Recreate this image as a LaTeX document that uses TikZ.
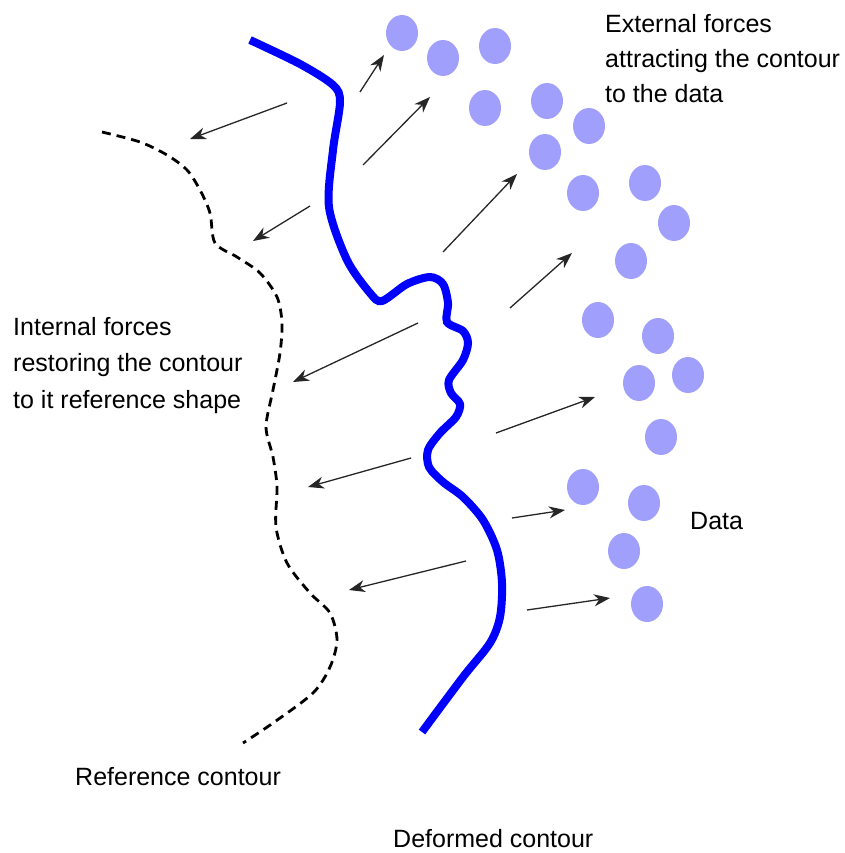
\documentclass[tikz,border=0pt]{standalone}
\usepackage{fontspec}
\setmainfont{Liberation Sans}
\usetikzlibrary{arrows.meta}
\definecolor{datablue}{RGB}{160,160,252}

\begin{document}
\begin{tikzpicture}[x=1pt, y=-1pt,
    force/.style={-{Stealth[length=16pt, width=12pt, inset=5pt]}, line width=1.3pt, black!85},
    label/.style={anchor=base west, inner sep=0pt, font=\fontsize{25}{35}\selectfont}]
    \useasboundingbox (0,0) rectangle (844,853);

    % Reference contour (dashed)
    \draw[line width=2.8pt, dash pattern=on 9pt off 6pt] plot[smooth] coordinates {
        (102,132) (140,142) (167,155) (187,170) (200,190) (210,213) (215,243)
        (237,257) (260,273) (277,297) (282,323) (280,353) (273,390) (266,427)
        (273,457) (277,487) (276,527) (287,563) (310,593) (330,613) (337,640)
        (330,667) (313,693) (273,723) (243,743)};

    % Deformed contour (blue)
    \draw[blue, line width=8pt] plot[smooth] coordinates {
        (250,40) (300,64) (333,85) (340,102) (333,150) (329,207) (347,260)
        (370,293) (382,301) (407,284) (430,277) (443,284) (448,303) (447,322)
        (463,331) (468,343) (463,360) (449,380) (451,393) (460,404) (456,417)
        (440,433) (428,450) (429,467) (443,482) (463,497) (483,520) (497,550)
        (502,583) (500,617) (490,643) (463,677) (422,732)};

    % Data
    \fill[datablue] (402,33) ellipse [x radius=16pt, y radius=18pt];
    \fill[datablue] (443,58) ellipse [x radius=16pt, y radius=18pt];
    \fill[datablue] (495,46) ellipse [x radius=16pt, y radius=18pt];
    \fill[datablue] (485,108) ellipse [x radius=16pt, y radius=18pt];
    \fill[datablue] (547,101) ellipse [x radius=16pt, y radius=18pt];
    \fill[datablue] (589,126) ellipse [x radius=16pt, y radius=18pt];
    \fill[datablue] (545,152) ellipse [x radius=16pt, y radius=18pt];
    \fill[datablue] (583,193) ellipse [x radius=16pt, y radius=18pt];
    \fill[datablue] (645,183) ellipse [x radius=16pt, y radius=18pt];
    \fill[datablue] (674,223) ellipse [x radius=16pt, y radius=18pt];
    \fill[datablue] (631,261) ellipse [x radius=16pt, y radius=18pt];
    \fill[datablue] (598,320) ellipse [x radius=16pt, y radius=18pt];
    \fill[datablue] (658,336) ellipse [x radius=16pt, y radius=18pt];
    \fill[datablue] (639,383) ellipse [x radius=16pt, y radius=18pt];
    \fill[datablue] (688,375) ellipse [x radius=16pt, y radius=18pt];
    \fill[datablue] (661,437) ellipse [x radius=16pt, y radius=18pt];
    \fill[datablue] (583,487) ellipse [x radius=16pt, y radius=18pt];
    \fill[datablue] (644,503) ellipse [x radius=16pt, y radius=18pt];
    \fill[datablue] (624,551) ellipse [x radius=16pt, y radius=18pt];
    \fill[datablue] (647,604) ellipse [x radius=16pt, y radius=18pt];

    % Internal forces (towards the reference contour)
    \draw[force] (287,103) -- (190,139);
    \draw[force] (310,206) -- (253,241);
    \draw[force] (418,323) -- (293,382);
    \draw[force] (411,458) -- (308,487);
    \draw[force] (466,561) -- (349,590);

    % External forces (towards the data)
    \draw[force] (360,92) -- (384,55);
    \draw[force] (363,165) -- (430,97);
    \draw[force] (443,252) -- (517,174);
    \draw[force] (510,308) -- (572,253);
    \draw[force] (496,433) -- (595,397);
    \draw[force] (512,518) -- (565,510);
    \draw[force] (527,610) -- (610,598);

    % Labels
    \node[label, anchor=north west, align=left, font=\fontsize{25}{35}\selectfont]
        (external) at (605,14) {External forces\\attracting the contour\\to the data};
    \node[label, anchor=north west, align=left, font=\fontsize{25}{36.5}\selectfont]
        (internal) at (13,317) {Internal forces\\restoring the contour\\to it reference shape};
    \node[label] (data) at (690,529) {Data};
    \node[label] (reference) at (75,785) {Reference contour};
    \node[label] (deformed) at (393,847) {Deformed contour};

\end{tikzpicture}
\end{document}
